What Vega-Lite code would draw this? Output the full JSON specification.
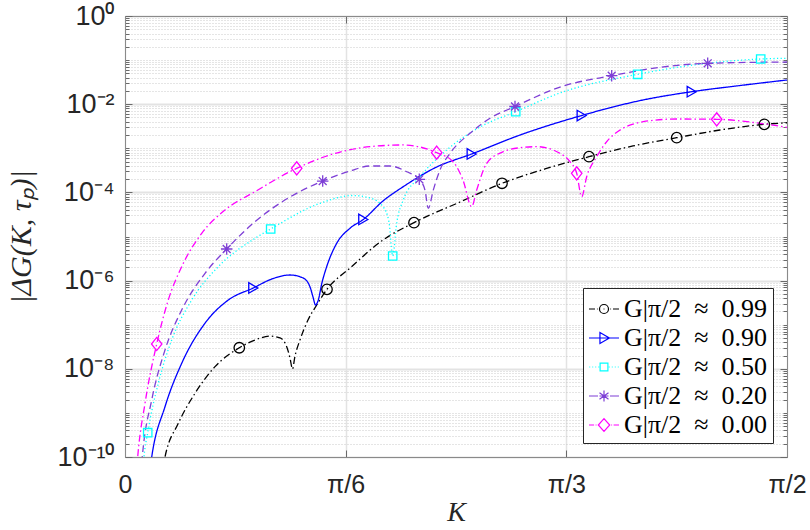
{
  "$schema": "https://vega.github.io/schema/vega-lite/v6.json",
  "autosize": {"type": "none"},
  "width": 662,
  "height": 441,
  "padding": {"left": 125, "top": 16, "right": 23, "bottom": 73},
  "background": "white",
  "config": {
    "view": {"stroke": "#8a8a8a", "strokeWidth": 1},
    "axis": {"domainColor": "#8a8a8a", "tickColor": "#6a6a6a", "labelColor": "#262626", "titleColor": "#262626"},
    "legend": {
      "orient": "bottom-right", "offset": 14, "title": null,
      "symbolSize": 900, "symbolStrokeWidth": 1.2,
      "labelFont": "Liberation Serif", "labelFontSize": 26, "labelColor": "#000000",
      "labelOffset": 4, "rowPadding": 0, "padding": 5, "labelLimit": 400,
      "strokeColor": "#262626", "fillColor": "white"
    }
  },
  "datasets": {
    "curves": [
      {"s": "0.99", "k": 0.0830, "g": 2.3e-11},
      {"s": "0.99", "k": 0.0949, "g": 1.0e-10},
      {"s": "0.99", "k": 0.1265, "g": 5.8e-10},
      {"s": "0.99", "k": 0.1661, "g": 2.78e-9},
      {"s": "0.99", "k": 0.2136, "g": 1.12e-8},
      {"s": "0.99", "k": 0.2712, "g": 3.0e-8},
      {"s": "0.99", "k": 0.3085, "g": 4.5e-8},
      {"s": "0.99", "k": 0.3441, "g": 5.5e-8},
      {"s": "0.99", "k": 0.3678, "g": 5.0e-8},
      {"s": "0.99", "k": 0.3837, "g": 3.17e-8},
      {"s": "0.99", "k": 0.3915, "g": 1.76e-8},
      {"s": "0.99", "k": 0.3974, "g": 9.9e-9},
      {"s": "0.99", "k": 0.4034, "g": 1.95e-8},
      {"s": "0.99", "k": 0.4152, "g": 4.5e-8},
      {"s": "0.99", "k": 0.4342, "g": 1.28e-7},
      {"s": "0.99", "k": 0.4549, "g": 2.8e-7},
      {"s": "0.99", "k": 0.4793, "g": 6.35e-7},
      {"s": "0.99", "k": 0.5339, "g": 1.93e-6},
      {"s": "0.99", "k": 0.6122, "g": 8.33e-6},
      {"s": "0.99", "k": 0.6857, "g": 2.06e-5},
      {"s": "0.99", "k": 0.7949, "g": 6.05e-5},
      {"s": "0.99", "k": 0.8946, "g": 1.61e-4},
      {"s": "0.99", "k": 0.9966, "g": 3.40e-4},
      {"s": "0.99", "k": 1.1010, "g": 6.45e-4},
      {"s": "0.99", "k": 1.2054, "g": 1.13e-3},
      {"s": "0.99", "k": 1.3091, "g": 1.74e-3},
      {"s": "0.99", "k": 1.4118, "g": 2.60e-3},
      {"s": "0.99", "k": 1.5170, "g": 3.50e-3},
      {"s": "0.99", "k": 1.5708, "g": 3.80e-3},

      {"s": "0.90", "k": 0.0546, "g": 2.3e-11},
      {"s": "0.90", "k": 0.0634, "g": 1.0e-10},
      {"s": "0.90", "k": 0.0949, "g": 1.38e-9},
      {"s": "0.90", "k": 0.1345, "g": 1.33e-8},
      {"s": "0.90", "k": 0.1898, "g": 1.08e-7},
      {"s": "0.90", "k": 0.2451, "g": 3.63e-7},
      {"s": "0.90", "k": 0.3044, "g": 6.8e-7},
      {"s": "0.90", "k": 0.3488, "g": 1.09e-6},
      {"s": "0.90", "k": 0.3915, "g": 1.34e-6},
      {"s": "0.90", "k": 0.4224, "g": 1.15e-6},
      {"s": "0.90", "k": 0.4390, "g": 7.2e-7},
      {"s": "0.90", "k": 0.4461, "g": 4.25e-7},
      {"s": "0.90", "k": 0.4520, "g": 2.8e-7},
      {"s": "0.90", "k": 0.4587, "g": 3.63e-7},
      {"s": "0.90", "k": 0.4667, "g": 8.4e-7},
      {"s": "0.90", "k": 0.4786, "g": 2.07e-6},
      {"s": "0.90", "k": 0.5023, "g": 7.0e-6},
      {"s": "0.90", "k": 0.5339, "g": 1.54e-5},
      {"s": "0.90", "k": 0.5654, "g": 2.43e-5},
      {"s": "0.90", "k": 0.6122, "g": 6.4e-5},
      {"s": "0.90", "k": 0.6603, "g": 1.35e-4},
      {"s": "0.90", "k": 0.7396, "g": 3.77e-4},
      {"s": "0.90", "k": 0.8226, "g": 7.43e-4},
      {"s": "0.90", "k": 0.9373, "g": 2.0e-3},
      {"s": "0.90", "k": 1.0836, "g": 5.54e-3},
      {"s": "0.90", "k": 1.2298, "g": 1.25e-2},
      {"s": "0.90", "k": 1.3447, "g": 1.92e-2},
      {"s": "0.90", "k": 1.4593, "g": 2.65e-2},
      {"s": "0.90", "k": 1.5708, "g": 3.54e-2},

      {"s": "0.50", "k": 0.0403, "g": 2.3e-11},
      {"s": "0.50", "k": 0.0451, "g": 1.0e-10},
      {"s": "0.50", "k": 0.0539, "g": 3.56e-10},
      {"s": "0.50", "k": 0.0790, "g": 4.69e-9},
      {"s": "0.50", "k": 0.1108, "g": 4.5e-8},
      {"s": "0.50", "k": 0.1583, "g": 3.63e-7},
      {"s": "0.50", "k": 0.2214, "g": 2.07e-6},
      {"s": "0.50", "k": 0.3085, "g": 9.1e-6},
      {"s": "0.50", "k": 0.3457, "g": 1.48e-5},
      {"s": "0.50", "k": 0.4627, "g": 5.66e-5},
      {"s": "0.50", "k": 0.5410, "g": 8.5e-5},
      {"s": "0.50", "k": 0.5813, "g": 7.47e-5},
      {"s": "0.50", "k": 0.6122, "g": 4.74e-5},
      {"s": "0.50", "k": 0.6264, "g": 2.13e-5},
      {"s": "0.50", "k": 0.6352, "g": 3.61e-6},
      {"s": "0.50", "k": 0.6447, "g": 2.02e-5},
      {"s": "0.50", "k": 0.6603, "g": 6.72e-5},
      {"s": "0.50", "k": 0.7000, "g": 2.27e-4},
      {"s": "0.50", "k": 0.7633, "g": 9.15e-4},
      {"s": "0.50", "k": 0.8423, "g": 3.04e-3},
      {"s": "0.50", "k": 0.9271, "g": 6.76e-3},
      {"s": "0.50", "k": 1.0322, "g": 1.80e-2},
      {"s": "0.50", "k": 1.2165, "g": 4.76e-2},
      {"s": "0.50", "k": 1.3485, "g": 7.74e-2},
      {"s": "0.50", "k": 1.5084, "g": 0.106},
      {"s": "0.50", "k": 1.5708, "g": 0.110},

      {"s": "0.20", "k": 0.0356, "g": 2.3e-11},
      {"s": "0.20", "k": 0.0410, "g": 1.0e-10},
      {"s": "0.20", "k": 0.0634, "g": 1.96e-9},
      {"s": "0.20", "k": 0.0949, "g": 2.67e-8},
      {"s": "0.20", "k": 0.1345, "g": 2.15e-7},
      {"s": "0.20", "k": 0.1898, "g": 1.46e-6},
      {"s": "0.20", "k": 0.2413, "g": 5.21e-6},
      {"s": "0.20", "k": 0.3085, "g": 2.17e-5},
      {"s": "0.20", "k": 0.3915, "g": 7.87e-5},
      {"s": "0.20", "k": 0.4691, "g": 1.81e-4},
      {"s": "0.20", "k": 0.5339, "g": 3.05e-4},
      {"s": "0.20", "k": 0.5813, "g": 3.97e-4},
      {"s": "0.20", "k": 0.6288, "g": 3.97e-4},
      {"s": "0.20", "k": 0.6684, "g": 2.94e-4},
      {"s": "0.20", "k": 0.6983, "g": 1.98e-4},
      {"s": "0.20", "k": 0.7118, "g": 1.13e-4},
      {"s": "0.20", "k": 0.7197, "g": 4.36e-5},
      {"s": "0.20", "k": 0.7315, "g": 1.13e-4},
      {"s": "0.20", "k": 0.7474, "g": 3.22e-4},
      {"s": "0.20", "k": 0.7712, "g": 7.7e-4},
      {"s": "0.20", "k": 0.8186, "g": 2.19e-3},
      {"s": "0.20", "k": 0.8661, "g": 4.79e-3},
      {"s": "0.20", "k": 0.9254, "g": 8.87e-3},
      {"s": "0.20", "k": 1.0322, "g": 2.45e-2},
      {"s": "0.20", "k": 1.1548, "g": 4.43e-2},
      {"s": "0.20", "k": 1.2695, "g": 6.87e-2},
      {"s": "0.20", "k": 1.3826, "g": 8.46e-2},
      {"s": "0.20", "k": 1.5708, "g": 9.06e-2},

      {"s": "0.00", "k": 0.0249, "g": 2.3e-11},
      {"s": "0.00", "k": 0.0301, "g": 1.0e-10},
      {"s": "0.00", "k": 0.0475, "g": 1.65e-9},
      {"s": "0.00", "k": 0.0752, "g": 3.65e-8},
      {"s": "0.00", "k": 0.1027, "g": 3.63e-7},
      {"s": "0.00", "k": 0.1345, "g": 2.07e-6},
      {"s": "0.00", "k": 0.1820, "g": 1.18e-5},
      {"s": "0.00", "k": 0.2373, "g": 3.99e-5},
      {"s": "0.00", "k": 0.3085, "g": 1.04e-4},
      {"s": "0.00", "k": 0.4074, "g": 3.52e-4},
      {"s": "0.00", "k": 0.5102, "g": 8.24e-4},
      {"s": "0.00", "k": 0.5813, "g": 1.09e-3},
      {"s": "0.00", "k": 0.6596, "g": 1.19e-3},
      {"s": "0.00", "k": 0.7396, "g": 7.94e-4},
      {"s": "0.00", "k": 0.7783, "g": 4.97e-4},
      {"s": "0.00", "k": 0.8020, "g": 1.91e-4},
      {"s": "0.00", "k": 0.8226, "g": 4.74e-5},
      {"s": "0.00", "k": 0.8345, "g": 1.13e-4},
      {"s": "0.00", "k": 0.8583, "g": 4.57e-4},
      {"s": "0.00", "k": 0.8976, "g": 8.37e-4},
      {"s": "0.00", "k": 0.9451, "g": 1.05e-3},
      {"s": "0.00", "k": 0.9769, "g": 1.09e-3},
      {"s": "0.00", "k": 1.0322, "g": 7.7e-4},
      {"s": "0.00", "k": 1.0559, "g": 4.97e-4},
      {"s": "0.00", "k": 1.0718, "g": 2.71e-4},
      {"s": "0.00", "k": 1.0836, "g": 7.98e-5},
      {"s": "0.00", "k": 1.0955, "g": 2.27e-4},
      {"s": "0.00", "k": 1.1192, "g": 6.45e-4},
      {"s": "0.00", "k": 1.1508, "g": 1.71e-3},
      {"s": "0.00", "k": 1.2298, "g": 4.01e-3},
      {"s": "0.00", "k": 1.3091, "g": 4.62e-3},
      {"s": "0.00", "k": 1.4040, "g": 4.55e-3},
      {"s": "0.00", "k": 1.5067, "g": 3.69e-3},
      {"s": "0.00", "k": 1.5708, "g": 2.99e-3}
    ],
    "markers": [
      {"s": "0.99", "k": 0.2712, "g": 3.0e-8},
      {"s": "0.99", "k": 0.4793, "g": 6.35e-7},
      {"s": "0.99", "k": 0.6857, "g": 2.06e-5},
      {"s": "0.99", "k": 0.8946, "g": 1.61e-4},
      {"s": "0.99", "k": 1.1010, "g": 6.45e-4},
      {"s": "0.99", "k": 1.3091, "g": 1.74e-3},
      {"s": "0.99", "k": 1.5170, "g": 3.5e-3},
      {"s": "0.90", "k": 0.3044, "g": 6.8e-7},
      {"s": "0.90", "k": 0.5654, "g": 2.43e-5},
      {"s": "0.90", "k": 0.8226, "g": 7.43e-4},
      {"s": "0.90", "k": 1.0836, "g": 5.54e-3},
      {"s": "0.90", "k": 1.3447, "g": 1.92e-2},
      {"s": "0.50", "k": 0.0539, "g": 3.56e-10},
      {"s": "0.50", "k": 0.3457, "g": 1.48e-5},
      {"s": "0.50", "k": 0.6352, "g": 3.61e-6},
      {"s": "0.50", "k": 0.9271, "g": 6.76e-3},
      {"s": "0.50", "k": 1.2165, "g": 4.76e-2},
      {"s": "0.50", "k": 1.5084, "g": 0.106},
      {"s": "0.20", "k": 0.2413, "g": 5.21e-6},
      {"s": "0.20", "k": 0.4691, "g": 1.81e-4},
      {"s": "0.20", "k": 0.6983, "g": 1.98e-4},
      {"s": "0.20", "k": 0.9254, "g": 8.87e-3},
      {"s": "0.20", "k": 1.1548, "g": 4.43e-2},
      {"s": "0.20", "k": 1.3826, "g": 8.46e-2},
      {"s": "0.00", "k": 0.0752, "g": 3.65e-8},
      {"s": "0.00", "k": 0.4074, "g": 3.52e-4},
      {"s": "0.00", "k": 0.7396, "g": 7.94e-4},
      {"s": "0.00", "k": 1.0718, "g": 2.71e-4},
      {"s": "0.00", "k": 1.4040, "g": 4.55e-3}
    ]
  },
  "layer": [
    {
      "data": {"name": "curves"},
      "mark": {"type": "line", "strokeWidth": 1.3, "clip": true, "interpolate": "monotone"},
      "encoding": {
        "x": {
          "field": "k", "type": "quantitative",
          "scale": {"domain": [0, 1.5707963], "nice": false, "zero": false},
          "axis": {
            "values": [0, 0.5235988, 1.0471976, 1.5707963],
            "labelExpr": "datum.value < 0.1 ? '0' : datum.value < 0.6 ? 'π/6' : datum.value < 1.1 ? 'π/3' : 'π/2'",
            "labelFlush": false,
            "labelFont": "Liberation Sans", "labelFontSize": 25, "labelPadding": 22,
            "tickSize": -7, "tickWidth": 1,
            "grid": true, "gridColor": "#e3e3e3", "gridWidth": 1.5,
            "title": "K", "titleFont": "Liberation Serif", "titleFontSize": 28,
            "titleFontStyle": "italic", "titleFontWeight": "normal", "titlePadding": 1
          }
        },
        "y": {
          "field": "g", "type": "quantitative",
          "scale": {"type": "log", "domain": [1e-10, 1], "nice": false},
          "axis": {
            "values": [1e-10,2e-10,3e-10,4e-10,5e-10,6e-10,7e-10,8e-10,9e-10,
                       1e-9,2e-9,3e-9,4e-9,5e-9,6e-9,7e-9,8e-9,9e-9,
                       1e-8,2e-8,3e-8,4e-8,5e-8,6e-8,7e-8,8e-8,9e-8,
                       1e-7,2e-7,3e-7,4e-7,5e-7,6e-7,7e-7,8e-7,9e-7,
                       1e-6,2e-6,3e-6,4e-6,5e-6,6e-6,7e-6,8e-6,9e-6,
                       1e-5,2e-5,3e-5,4e-5,5e-5,6e-5,7e-5,8e-5,9e-5,
                       1e-4,2e-4,3e-4,4e-4,5e-4,6e-4,7e-4,8e-4,9e-4,
                       1e-3,2e-3,3e-3,4e-3,5e-3,6e-3,7e-3,8e-3,9e-3,
                       1e-2,2e-2,3e-2,4e-2,5e-2,6e-2,7e-2,8e-2,9e-2,
                       1e-1,2e-1,3e-1,4e-1,5e-1,6e-1,7e-1,8e-1,9e-1,1],
            "labelExpr": "abs(log(datum.value)/LN10 - round(log(datum.value)/LN10)) < 0.001 ? ['10⁰','','10⁻²','','10⁻⁴','','10⁻⁶','','10⁻⁸','','10⁻¹⁰'][-round(log(datum.value)/LN10)] : ''",
            "labelOverlap": false,
            "labelFont": "Liberation Sans", "labelFontSize": 27, "labelPadding": 18,
            "tickSize": {"condition": {"test": "abs(log(datum.value)/LN10 - round(log(datum.value)/LN10)) < 0.001 && round(log(datum.value)/LN10) % 2 == 0", "value": -7}, "value": -4},
            "tickWidth": 1,
            "grid": true,
            "gridDash": {"condition": {"test": "abs(log(datum.value)/LN10 - round(log(datum.value)/LN10)) < 0.001 && round(log(datum.value)/LN10) % 2 == 0", "value": []}, "value": [1, 2]},
            "gridColor": {"condition": {"test": "abs(log(datum.value)/LN10 - round(log(datum.value)/LN10)) < 0.001 && round(log(datum.value)/LN10) % 2 == 0", "value": "#e3e3e3"}, "value": "#c4c4c4"},
            "gridWidth": {"condition": {"test": "abs(log(datum.value)/LN10 - round(log(datum.value)/LN10)) < 0.001 && round(log(datum.value)/LN10) % 2 == 0", "value": 2}, "value": 0.9},
            "title": "|ΔG(K, τₚ)|", "titleFont": "Liberation Serif", "titleFontSize": 30,
            "titleFontStyle": "italic", "titleFontWeight": "normal", "titlePadding": 20
          }
        },
        "color": {
          "field": "s", "type": "nominal",
          "scale": {"domain": ["0.99", "0.90", "0.50", "0.20", "0.00"],
                    "range": ["#000000", "#0000ff", "#00ffff", "#7e3fd6", "#ff00ff"]},
          "legend": {"labelExpr": "'G|π/2\u2002≈\u2002' + datum.label", "labelFont": "Liberation Serif", "labelFontSize": 26}
        },
        "strokeDash": {
          "field": "s", "type": "nominal",
          "scale": {"domain": ["0.00", "0.20", "0.50", "0.90", "0.99"],
                    "range": [[7, 3, 1.5, 3], [7, 4], [1.2, 2.4], [1, 0], [7, 3, 1.5, 3]]},
          "legend": null
        }
      }
    },
    {
      "data": {"name": "markers"},
      "transform": [{"filter": "datum.s === '0.99'"}],
      "mark": {"type": "point", "shape": "circle", "filled": false, "strokeWidth": 1.3, "opacity": 1, "size": 110, "clip": true},
      "encoding": {
        "x": {
          "field": "k", "type": "quantitative",
          "axis": {"orient": "top", "values": [0, 0.5235988, 1.0471976, 1.5707963], "labels": false, "grid": false, "tickSize": -7, "title": null}
        },
        "y": {
          "field": "g", "type": "quantitative",
          "axis": {
            "orient": "right", "labels": false, "grid": false, "title": null,
            "values": [1e-10,2e-10,3e-10,4e-10,5e-10,6e-10,7e-10,8e-10,9e-10,
                       1e-9,2e-9,3e-9,4e-9,5e-9,6e-9,7e-9,8e-9,9e-9,
                       1e-8,2e-8,3e-8,4e-8,5e-8,6e-8,7e-8,8e-8,9e-8,
                       1e-7,2e-7,3e-7,4e-7,5e-7,6e-7,7e-7,8e-7,9e-7,
                       1e-6,2e-6,3e-6,4e-6,5e-6,6e-6,7e-6,8e-6,9e-6,
                       1e-5,2e-5,3e-5,4e-5,5e-5,6e-5,7e-5,8e-5,9e-5,
                       1e-4,2e-4,3e-4,4e-4,5e-4,6e-4,7e-4,8e-4,9e-4,
                       1e-3,2e-3,3e-3,4e-3,5e-3,6e-3,7e-3,8e-3,9e-3,
                       1e-2,2e-2,3e-2,4e-2,5e-2,6e-2,7e-2,8e-2,9e-2,
                       1e-1,2e-1,3e-1,4e-1,5e-1,6e-1,7e-1,8e-1,9e-1,1],
            "tickSize": {"condition": {"test": "abs(log(datum.value)/LN10 - round(log(datum.value)/LN10)) < 0.001 && round(log(datum.value)/LN10) % 2 == 0", "value": -7}, "value": -4}
          }
        },
        "color": {"field": "s", "type": "nominal", "legend": {"labelExpr": "'G|π/2\u2002≈\u2002' + datum.label", "labelFont": "Liberation Serif", "labelFontSize": 26}}
      }
    },
    {
      "data": {"name": "markers"},
      "transform": [{"filter": "datum.s === '0.90'"}],
      "mark": {"type": "point", "shape": "triangle-right", "filled": false, "strokeWidth": 1.3, "opacity": 1, "size": 110, "clip": true},
      "encoding": {
        "x": {"field": "k", "type": "quantitative", "axis": null},
        "y": {"field": "g", "type": "quantitative", "axis": null},
        "color": {"field": "s", "type": "nominal", "legend": {"labelExpr": "'G|π/2\u2002≈\u2002' + datum.label", "labelFont": "Liberation Serif", "labelFontSize": 26}}
      }
    },
    {
      "data": {"name": "markers"},
      "transform": [{"filter": "datum.s === '0.50'"}],
      "mark": {"type": "point", "shape": "M-0.8,-0.8L0.8,-0.8L0.8,0.8L-0.8,0.8Z", "filled": false, "strokeWidth": 1.3, "opacity": 1, "size": 110, "clip": true},
      "encoding": {
        "x": {"field": "k", "type": "quantitative", "axis": null},
        "y": {"field": "g", "type": "quantitative", "axis": null},
        "color": {"field": "s", "type": "nominal", "legend": {"labelExpr": "'G|π/2\u2002≈\u2002' + datum.label", "labelFont": "Liberation Serif", "labelFontSize": 26}}
      }
    },
    {
      "data": {"name": "markers"},
      "transform": [{"filter": "datum.s === '0.20'"}],
      "mark": {"type": "point", "shape": "M-1.1,0L1.1,0M0,-1.1L0,1.1M-0.75,-0.75L0.75,0.75M-0.75,0.75L0.75,-0.75", "filled": false, "strokeWidth": 1.3, "opacity": 1, "size": 110, "clip": true},
      "encoding": {
        "x": {"field": "k", "type": "quantitative", "axis": null},
        "y": {"field": "g", "type": "quantitative", "axis": null},
        "color": {"field": "s", "type": "nominal", "legend": {"labelExpr": "'G|π/2\u2002≈\u2002' + datum.label", "labelFont": "Liberation Serif", "labelFontSize": 26}}
      }
    },
    {
      "data": {"name": "markers"},
      "transform": [{"filter": "datum.s === '0.00'"}],
      "mark": {"type": "point", "shape": "M0,-1.25L1,0L0,1.25L-1,0Z", "filled": false, "strokeWidth": 1.3, "opacity": 1, "size": 110, "clip": true},
      "encoding": {
        "x": {"field": "k", "type": "quantitative", "axis": null},
        "y": {"field": "g", "type": "quantitative", "axis": null},
        "color": {"field": "s", "type": "nominal", "legend": {"labelExpr": "'G|π/2\u2002≈\u2002' + datum.label", "labelFont": "Liberation Serif", "labelFontSize": 26}}
      }
    },
    {
      "data": {"name": "markers"},
      "mark": {"type": "point", "filled": false, "size": 0, "strokeWidth": 1.2, "clip": true},
      "encoding": {
        "x": {"field": "k", "type": "quantitative", "axis": null},
        "y": {"field": "g", "type": "quantitative", "axis": null},
        "color": {
          "field": "s", "type": "nominal",
          "legend": {"labelExpr": "'G|π/2\u2002≈\u2002' + datum.label", "labelFont": "Liberation Serif", "labelFontSize": 26}
        },
        "shape": {
          "field": "s", "type": "nominal",
          "scale": {"domain": ["0.99", "0.90", "0.50", "0.20", "0.00"],
                    "range": [
                      "M-1,0L-0.6,0M-0.47,0L-0.42,0M0.3,0A0.3,0.3 0 1 1 -0.3,0A0.3,0.3 0 1 1 0.3,0M-0.03,0L0.03,0M0.42,0L0.47,0M0.6,0L1,0",
                      "M-1,0L1,0M-0.27,-0.36L0.36,0L-0.27,0.36Z",
                      "M-0.98,0L-0.92,0M-0.78,0L-0.72,0M-0.58,0L-0.52,0M-0.38,0L-0.32,0M-0.26,-0.26L0.26,-0.26L0.26,0.26L-0.26,0.26ZM0.32,0L0.38,0M0.52,0L0.58,0M0.72,0L0.78,0M0.92,0L0.98,0",
                      "M-1,0L-0.4,0M-0.3,0L0.3,0M0.4,0L1,0M0,-0.36L0,0.36M-0.3,-0.22L0.3,0.22M-0.3,0.22L0.3,-0.22",
                      "M-1,0L-0.66,0M-0.56,0L-0.5,0M0,-0.42L0.38,0L0,0.42L-0.38,0ZM0.48,0L0.54,0M0.64,0L1,0"
                    ]},
          "legend": {"labelExpr": "'G|π/2\u2002≈\u2002' + datum.label", "labelFont": "Liberation Serif", "labelFontSize": 26}
        }
      }
    }
  ],
  "resolve": {"axis": {"x": "independent", "y": "independent"}, "scale": {"strokeDash": "independent"}}
}
